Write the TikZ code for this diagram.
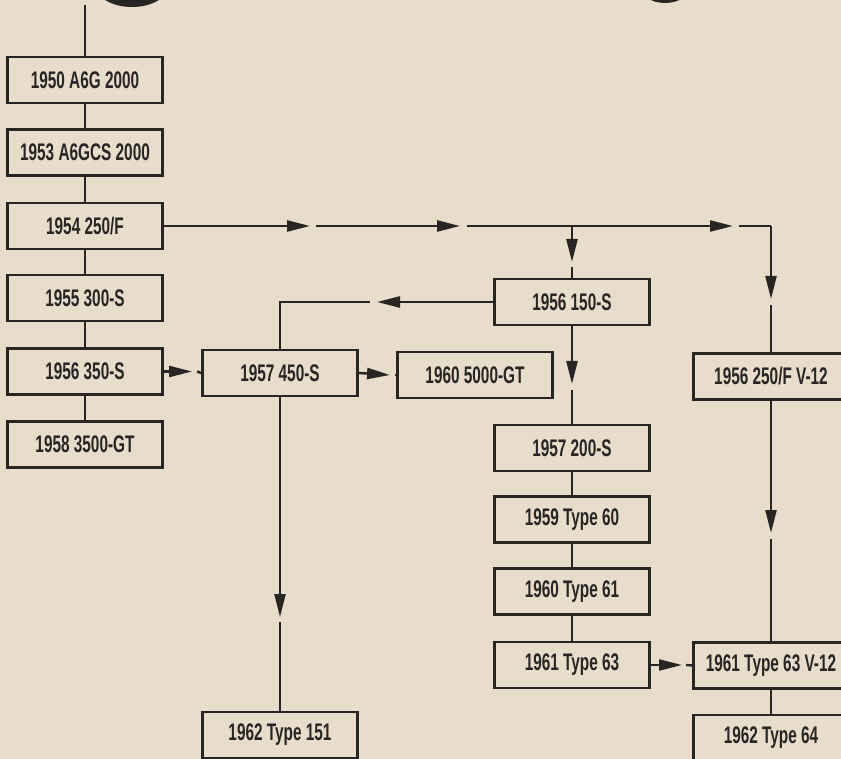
\documentclass[tikz,border=0pt]{standalone}
\usepackage{fontspec}
\setmainfont{Liberation Sans}[FakeStretch=0.64]
\usetikzlibrary{arrows.meta}
\definecolor{paper}{RGB}{231,221,202}
\definecolor{ink}{RGB}{40,38,36}
\begin{document}
\begin{tikzpicture}[x=1pt,y=-1pt,
  car/.style={shape=rectangle, draw=ink, line width=2.8pt, minimum width=155pt, minimum height=46pt, inner sep=0pt, text=ink, font=\bfseries\fontsize{24}{24}\selectfont},
  link/.style={draw=ink, line width=2.4pt},
  flow/.style={link, -{Triangle[length=23pt,width=11pt]}}]
\clip (0,0) rectangle (841,759);
\fill[paper] (0,0) rectangle (841,759);
% bits of the big title letters
\fill[ink] (132,-14) ellipse (36pt and 21pt);
\fill[ink] (665,-15) ellipse (26pt and 18pt);
% left column
\node (a6g) at (85,80) [car] {1950 A6G 2000};
\node (a6gcs) at (85,152.5) [car] {1953 A6GCS 2000};
\node (f250) at (85,226) [car] {1954 250/F};
\node (s300) at (85,298) [car] {1955 300-S};
\node (s350) at (85,371.5) [car] {1956 350-S};
\node (gt3500) at (85,444.5) [car] {1958 3500-GT};
% middle
\node (s450) at (280,373) [car] {1957 450-S};
\node (gt5000) at (475,375) [car] {1960 5000-GT};
\node (t151) at (280,735) [car] {1962 Type 151};
\node (s150) at (572,302) [car] {1956 150-S};
\node (s200) at (572,448) [car] {1957 200-S};
\node (t60) at (572,519.5) [car] {1959 Type 60};
\node (t61) at (572,591.5) [car] {1960 Type 61};
\node (t63) at (572,665) [car] {1961 Type 63};
% right column
\node (v12) at (771,376.5) [car] {1956 250/F V-12};
\node (t63v12) at (771,665.5) [car] {1961 Type 63 V-12};
\node (t64) at (771,738) [car] {1962 Type 64};
% arrow tips and corners
\coordinate (start) at (85,5);
\coordinate (h1) at (310,226);
\coordinate (h2) at (460,226);
\coordinate (h3) at (733,226);
\coordinate (fork) at (572,226);
\coordinate (d1) at (572,262);
\coordinate (corner) at (771,226);
\coordinate (d2) at (771,299);
\coordinate (l1) at (377,302);
\coordinate (bend) at (280,302);
\coordinate (d3) at (572,384);
\coordinate (r1) at (192,371.5);
\coordinate (r2) at (390,375);
\coordinate (d4) at (280,617);
\coordinate (d5) at (771,533);
\coordinate (r3) at (682,665);
% straight links
\draw[link] (start) -- (a6g.north);
\draw[link] (a6g) -- (a6gcs) -- (f250) -- (s300) -- (s350) -- (gt3500);
\draw[link] (s200) -- (t60) -- (t61) -- (t63);
\draw[link] (t63v12) -- (t64);
% arrows
\draw[flow] (f250.east) -- (h1);
\draw[flow] ([xshift=6pt]h1) -- (h2);
\draw[flow] ([xshift=7pt]h2) -- (h3);
\draw[link] ([xshift=6pt]h3) -- (corner);
\draw[flow] (corner) -- (d2);
\draw[link] ([yshift=-6pt]d2) -- (v12.north);
\draw[flow] (fork) -- (d1);
\draw[link] ([yshift=-5pt]d1) -- (s150.north);
\draw[flow] (s150.west) -- (l1);
\draw[link] ([xshift=-7pt]l1) -- (bend) -- (s450.north);
\draw[flow] (s150.south) -- (d3);
\draw[link] ([yshift=-6pt]d3) -- (s200.north);
\draw[flow] (s350.east) -- (r1);
\draw[link] ([xshift=5pt]r1) -- (s450.west);
\draw[flow] (s450.east) -- (r2);
\draw[link] ([xshift=5pt]r2) -- (gt5000.west);
\draw[flow] (s450.south) -- (d4);
\draw[link] ([yshift=-5pt]d4) -- (t151.north);
\draw[flow] (v12.south) -- (d5);
\draw[link] ([yshift=-6pt]d5) -- (t63v12.north);
\draw[flow] (t63.east) -- (r3);
\draw[link] ([xshift=4pt]r3) -- (t63v12.west);
\end{tikzpicture}
\end{document}
